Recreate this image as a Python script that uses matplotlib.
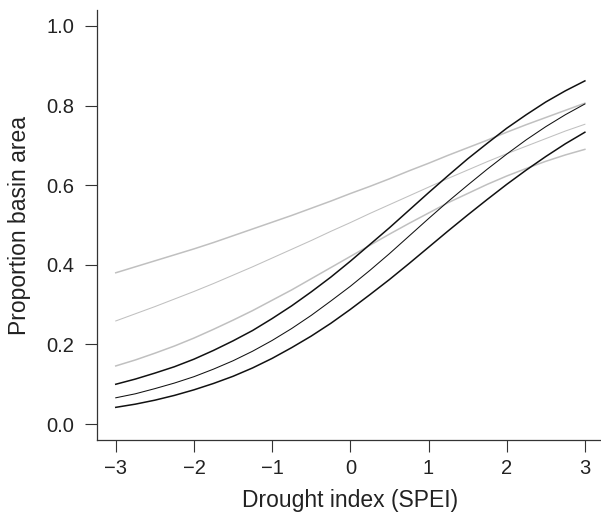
import matplotlib
matplotlib.use('Agg')
import matplotlib.pyplot as plt

plt.rcParams['font.family'] = ['Liberation Sans', 'DejaVu Sans']

# SPEI values where the fitted curves were read
spei = [-3, -2.75, -2.5, -2.25, -2, -1.75, -1.5, -1.25, -1, -0.75, -0.5, -0.25,
        0, 0.25, 0.5, 0.75, 1, 1.25, 1.5, 1.75, 2, 2.25, 2.5, 2.75, 3]

# black: fitted proportion with lower / upper bounds
black_upper = [0.100, 0.113, 0.128, 0.144, 0.163, 0.185, 0.209, 0.235, 0.265, 0.297, 0.332, 0.369,
               0.409, 0.451, 0.493, 0.537, 0.581, 0.624, 0.666, 0.705, 0.743, 0.777, 0.809, 0.837, 0.862]
black_fit   = [0.066, 0.076, 0.089, 0.103, 0.119, 0.138, 0.159, 0.183, 0.210, 0.240, 0.273, 0.309,
               0.346, 0.386, 0.428, 0.472, 0.516, 0.559, 0.600, 0.640, 0.678, 0.714, 0.747, 0.777, 0.804]
black_lower = [0.042, 0.050, 0.060, 0.072, 0.086, 0.102, 0.120, 0.141, 0.165, 0.192, 0.221, 0.253,
               0.288, 0.325, 0.363, 0.403, 0.444, 0.485, 0.525, 0.564, 0.602, 0.638, 0.672, 0.704, 0.733]

# grey: fitted proportion with lower / upper bounds
grey_upper = [0.380, 0.395, 0.410, 0.425, 0.440, 0.456, 0.473, 0.490, 0.507, 0.524, 0.542, 0.560,
              0.579, 0.597, 0.616, 0.636, 0.655, 0.675, 0.694, 0.713, 0.733, 0.752, 0.770, 0.788, 0.806]
grey_fit   = [0.259, 0.277, 0.295, 0.314, 0.333, 0.353, 0.374, 0.395, 0.417, 0.439, 0.461, 0.484,
              0.506, 0.529, 0.551, 0.573, 0.595, 0.617, 0.638, 0.659, 0.679, 0.698, 0.717, 0.736, 0.753]
grey_lower = [0.146, 0.161, 0.178, 0.196, 0.216, 0.238, 0.261, 0.285, 0.311, 0.337, 0.365, 0.393,
              0.421, 0.449, 0.477, 0.504, 0.530, 0.556, 0.579, 0.602, 0.623, 0.642, 0.660, 0.676, 0.690]

xticks = [-3, -2, -1, 0, 1, 2, 3]
yticks = [0.0, 0.2, 0.4, 0.6, 0.8, 1.0]

fig = plt.figure(figsize=(6.01, 5.16), dpi=100)
ax = fig.add_axes([0.1614, 0.1473, 0.843, 0.8333])

grey = '#c0c0c0'
ax.plot(spei, grey_upper, color=grey, lw=1.1)
ax.plot(spei, grey_fit, color=grey, lw=0.75)
ax.plot(spei, grey_lower, color=grey, lw=1.1)
ax.plot(spei, black_upper, color='#111111', lw=1.1)
ax.plot(spei, black_fit, color='#111111', lw=0.75)
ax.plot(spei, black_lower, color='#111111', lw=1.1)

ax.set_xlim(-3.24, 3.24)
ax.set_ylim(-0.04, 1.04)

# L-shaped box, R style
for s in ['top', 'right']:
    ax.spines[s].set_visible(False)
for s in ['left', 'bottom']:
    ax.spines[s].set_color('#333333')
    ax.spines[s].set_linewidth(0.9)

ax.set_xticks(xticks)
ax.set_xticklabels(['\u22123', '\u22122', '\u22121', '0', '1', '2', '3'])
ax.set_yticks(yticks)
ax.set_yticklabels(['%.1f' % v for v in yticks])
ax.tick_params(direction='out', length=8.6, width=0.8, color='#333333',
               labelsize=14.5, labelcolor='#222222')
ax.tick_params(axis='x', pad=5)
ax.tick_params(axis='y', pad=8)

ax.set_xlabel('Drought index (SPEI)', fontsize=16.5, color='#222222')
ax.set_ylabel('Proportion basin area', fontsize=16.5, color='#222222')
ax.xaxis.set_label_coords(0.5, -0.115)
ax.yaxis.set_label_coords(-0.130, 0.5)

fig.savefig('out.png', dpi=100)
